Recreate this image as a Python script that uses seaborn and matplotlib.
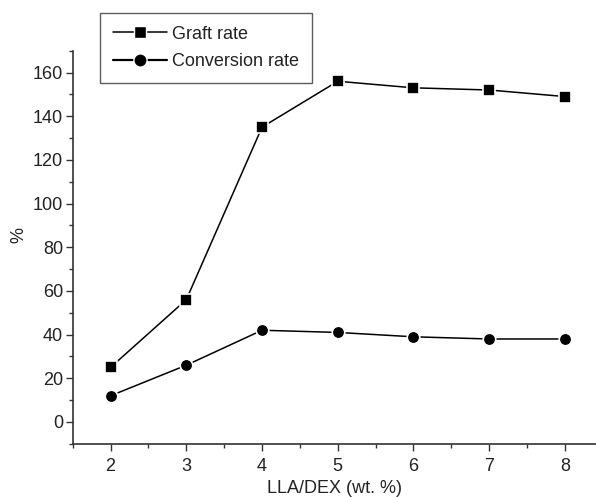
import numpy as np
import pandas as pd
import seaborn as sns
import matplotlib.pyplot as plt
from matplotlib.ticker import MultipleLocator
from matplotlib.lines import Line2D

sns.set_theme(style="ticks")
plt.rcParams['font.family'] = ['Liberation Sans', 'DejaVu Sans']

# data
ratio = [2, 3, 4, 5, 6, 7, 8]
graft = [25, 56, 135, 156, 153, 152, 149]
conversion = [12, 26, 42, 41, 39, 38, 38]
labels = ["Graft rate", "Conversion rate"]

df = pd.DataFrame({
    "ratio": ratio * 2,
    "value": graft + conversion,
    "series": [labels[0]] * len(ratio) + [labels[1]] * len(ratio),
})

fig = plt.figure(figsize=(5.96, 4.97), dpi=100)
ax = fig.add_axes([0.122, 0.107, 0.878, 0.791])

sns.lineplot(data=df, x="ratio", y="value", hue="series", style="series",
             markers=["s", "o"], dashes=False, palette=["black", "black"],
             markersize=9, linewidth=1.1, markeredgecolor="white",
             markeredgewidth=1.2, ax=ax, legend=False)

ax.set_xlim(1.5, 8.41)
ax.set_ylim(-10, 170)
ax.xaxis.set_major_locator(MultipleLocator(1))
ax.xaxis.set_minor_locator(MultipleLocator(0.5))
ax.yaxis.set_major_locator(MultipleLocator(20))
ax.yaxis.set_minor_locator(MultipleLocator(10))
ax.tick_params(which="major", direction="out", length=5, width=1, labelsize=13,
               color="#333333", pad=2, labelcolor="#222222")
ax.tick_params(axis="x", which="major", pad=5.5)
ax.tick_params(which="minor", direction="out", length=3, width=1, color="#333333")
for s in ["top", "right"]:
    ax.spines[s].set_visible(False)
for s in ["left", "bottom"]:
    ax.spines[s].set_color("#333333")
    ax.spines[s].set_linewidth(1.2)

ax.set_xlabel("LLA/DEX (wt. %)", fontsize=13, labelpad=3, color="#222222")
ax.set_ylabel("%", fontsize=13, color="#222222")
ax.yaxis.set_label_coords(-0.087, 0.531)

# legend above the plot, line-marker-line handles
handles = [
    Line2D([], [], color="black", marker="s", markersize=9, linewidth=1.1,
           markeredgecolor="white", markeredgewidth=1.0),
    Line2D([], [], color="black", marker="o", markersize=9.5, linewidth=1.6,
           markeredgecolor="white", markeredgewidth=1.0),
]
leg = fig.legend(handles, labels, loc="upper left",
                 bbox_to_anchor=(100 / 596, 1 - 13 / 497),
                 fontsize=13, frameon=True, fancybox=False, handlelength=3.0,
                 borderpad=0.7, labelspacing=0.6, handletextpad=0.3,
                 borderaxespad=0)
leg.get_frame().set_edgecolor("#333333")
leg.get_frame().set_linewidth(1.0)
for t in leg.get_texts():
    t.set_color("#222222")

fig.savefig("out.png", dpi=100)
